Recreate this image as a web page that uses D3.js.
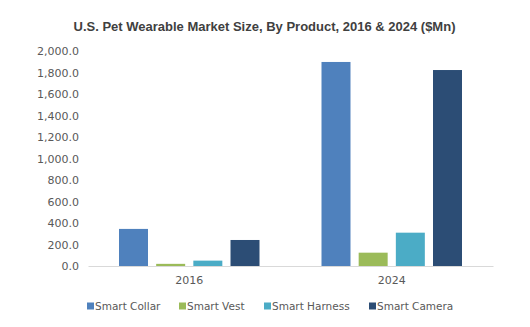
<!DOCTYPE html>
<html><head><meta charset="utf-8">
<script src="https://cdn.jsdelivr.net/npm/d3@7"></script>
<style>body{margin:0;background:#fff}svg{display:block}</style>
</head><body>
<svg id="c" width="530" height="327"></svg>
<script>
const years = ["2016", "2024"];
const products = ["Smart Collar", "Smart Vest", "Smart Harness", "Smart Camera"];
const smartCollar = [345, 1898];
const smartVest = [20, 124];
const smartHarness = [50, 310];
const smartCamera = [242, 1823];
const colors = ["#4f81bd", "#9bbb59", "#4bacc6", "#2c4d75"];
const yTicks = [0, 200, 400, 600, 800, 1000, 1200, 1400, 1600, 1800, 2000];
const title = "U.S. Pet Wearable Market Size, By Product, 2016 & 2024 ($Mn)";

(function () {
const series = [smartCollar, smartVest, smartHarness, smartCamera];
const svg = d3.select("#c");
const mLeft = 88, mRight = 493, mTop = 51, mBottom = 266;

const x0 = d3.scaleBand().domain(years).range([mLeft, mRight]).paddingInner(0).paddingOuter(0);
const x1 = d3.scaleBand().domain(products).range([31, x0.bandwidth() - 31]).paddingInner(0.22).paddingOuter(0);
const y = d3.scaleLinear().domain([0, 2000]).range([mBottom, mTop]);

svg.append("text").attr("x", 264.5).attr("y", 31).attr("text-anchor", "middle")
  .attr("font-family", "Liberation Sans, Arial, sans-serif").attr("font-weight", "bold")
  .attr("font-size", 13).attr("fill", "#404040").text(title);

const yAxis = d3.axisLeft(y).tickValues(yTicks).tickSize(0).tickPadding(9)
  .tickFormat(d => d3.format(",.1f")(d));
const ya = svg.append("g").attr("transform", `translate(${mLeft},0)`).call(yAxis);
ya.select(".domain").remove();
ya.selectAll("text").attr("font-family", "DejaVu Sans, Verdana, sans-serif").attr("font-size", 11).attr("fill", "#595959");

const groups = svg.append("g").selectAll("g").data(years).join("g")
  .attr("transform", d => `translate(${x0(d)},0)`);
groups.selectAll("rect").data((d, i) => products.map((p, j) => ({p, v: series[j][i], c: colors[j]})))
  .join("rect")
  .attr("x", d => x1(d.p)).attr("width", x1.bandwidth())
  .attr("y", d => y(d.v)).attr("height", d => y(0) - y(d.v))
  .attr("fill", d => d.c);

const xAxis = d3.axisBottom(x0).tickSize(0).tickPadding(10);
const xa = svg.append("g").attr("transform", `translate(0,${mBottom})`).call(xAxis);
xa.select(".domain").attr("stroke", "#d9d9d9");
xa.selectAll("text").attr("font-family", "DejaVu Sans, Verdana, sans-serif").attr("font-size", 11).attr("fill", "#595959");

const legendX = [87, 179, 264, 369];
const lg = svg.append("g").selectAll("g").data(products).join("g")
  .attr("transform", (d, i) => `translate(${legendX[i]},306)`);
lg.append("rect").attr("x", 0).attr("y", -3.5).attr("width", 7).attr("height", 7).attr("fill", (d, i) => colors[i]);
lg.append("text").attr("x", 8).attr("y", 4).attr("font-family", "DejaVu Sans, Verdana, sans-serif")
  .attr("font-size", 10.5).attr("fill", "#595959").text(d => d);
})();
</script>
</body></html>
